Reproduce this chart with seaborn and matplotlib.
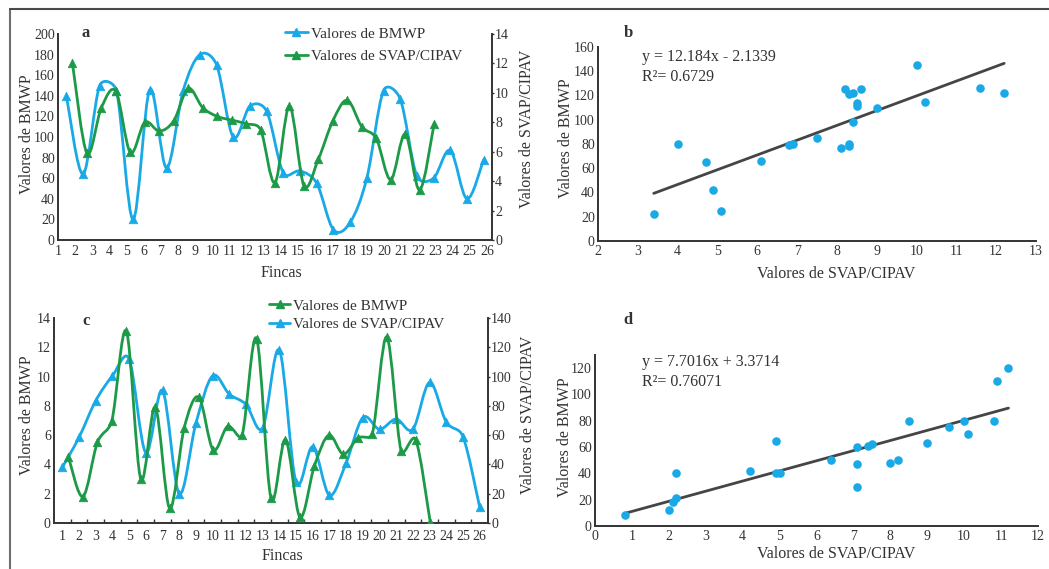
import numpy as np
import matplotlib
matplotlib.use("Agg")
import matplotlib.pyplot as plt
import seaborn as sns
from matplotlib.path import Path
from matplotlib.patches import PathPatch
from matplotlib.lines import Line2D

sns.set_theme(style="white")
plt.rcParams['font.family'] = ['Liberation Serif', 'DejaVu Serif']

# ---------------- data ----------------
fincas = list(range(1, 27))

# panel a (first sampling)
a_bmwp = [140, 64, 150, 145, 20, 146, 70, 145, 180, 170, 100, 130, 125,
          65, 67, 55, 10, 17, 60, 145, 137, 62, 60, 87, 40, 78]
a_svap = [12.0, 5.9, 9.0, 10.1, 5.95, 8.0, 7.4, 8.1, 10.3, 9.0, 8.4, 8.15, 7.9,
          7.5, 3.9, 9.1, 3.7, 5.5, 8.1, 9.5, 7.7, 6.9, 4.1, 7.2, 3.4, 7.9]

# panel c (second sampling)
c_bmwp = [45, 18, 55, 70, 131, 30, 79, 10, 65, 86, 50, 66, 60,
          126, 17, 57, 4, 39, 60, 47, 58, 61, 127, 49, 57, 1]
c_svap = [3.8, 5.85, 8.35, 10.05, 11.2, 4.8, 9.05, 2.0, 6.8, 10.05, 8.8, 8.1, 6.5,
          11.8, 2.8, 5.2, 1.9, 4.1, 7.2, 6.4, 7.1, 6.4, 9.6, 6.9, 5.9, 1.1]

# panel b scatter
b_svap = [3.4, 4.0, 4.7, 4.9, 5.1, 6.1, 6.8, 6.9, 7.5, 8.1, 8.3, 8.3, 8.4, 8.2,
          8.3, 8.4, 8.5, 8.5, 8.6, 9.0, 10.0, 10.2, 11.6, 12.2]
b_bmwp = [22, 80, 65, 42, 25, 66, 79, 80, 85, 77, 80, 78, 98, 125,
          121, 122, 114, 111, 125, 110, 145, 115, 126, 122]
b_slope, b_intercept, b_r2 = 12.184, -2.1339, "0.6729"

# panel d scatter
d_svap = [0.8, 2.0, 2.1, 2.2, 2.2, 4.2, 4.9, 4.9, 5.0, 6.4, 7.1, 7.1, 7.1, 7.4,
          7.5, 8.0, 8.2, 8.5, 9.0, 9.6, 10.0, 10.1, 10.8, 10.9, 11.2]
d_bmwp = [8, 12, 18, 21, 40, 42, 65, 40, 40, 50, 60, 47, 30, 61,
          62, 48, 50, 80, 63, 75, 80, 70, 80, 110, 120]
d_slope, d_intercept, d_r2 = 7.7016, 3.3714, "0.76071"

a_ticks_left = list(range(0, 201, 20))
a_ticks_right = list(range(0, 15, 2))
c_ticks_left = list(range(0, 15, 2))
c_ticks_right = list(range(0, 141, 20))

# ---------------- style ----------------
BLUE = '#19A9E6'
GREEN = '#1D9A47'
DARK = '#333333'
LINEC = '#454545'
W, H = 1049, 569
TICKFS = 10
LABFS = 11.5
YT = dict(direction='out', length=1.5, pad=0.8)

fig = plt.figure(figsize=(W / 100, H / 100), dpi=100)
fig.patch.set_facecolor('white')


def rect(l, t, r, b):
    return [l / W, 1 - b / H, (r - l) / W, (b - t) / H]


def overlay(r):
    ax = fig.add_axes(r)
    ax.patch.set_visible(False)
    for s in ax.spines.values():
        s.set_visible(False)
    ax.set_xticks([])
    ax.set_yticks([])
    ax.grid(False)
    return ax


def style_axis(ax):
    ax.grid(False)
    for s in ax.spines.values():
        s.set_color(DARK)
        s.set_linewidth(1.4)
    ax.tick_params(colors=DARK, labelsize=TICKFS, width=1, length=3, pad=2)


def smooth(ax, x, y, color, lw=2.0):
    """Excel-like smoothed line: cubic Bezier segments through the points,
    tangents from neighbours, control arms capped at half the chord."""
    pts = ax.transData.transform(np.column_stack([x, y]).astype(float))
    n = len(pts)
    verts = [pts[0]]
    codes = [Path.MOVETO]
    for i in range(n - 1):
        p0 = pts[i - 1] if i > 0 else pts[i]
        p1 = pts[i]
        p2 = pts[i + 1]
        p3 = pts[i + 2] if i + 2 < n else pts[i + 1]
        d = np.hypot(*(p2 - p1))
        a1 = (p2 - p0) / 6.0
        a2 = (p3 - p1) / 6.0
        for a in (a1, a2):
            L = np.hypot(*a)
            if L > d / 2 and L > 0:
                a *= (d / 2) / L
        verts += [p1 + a1, p2 - a2, p2]
        codes += [Path.CURVE4] * 3
    verts = ax.transData.inverted().transform(np.array(verts))
    ax.add_patch(PathPatch(Path(verts, codes), fill=False, edgecolor=color,
                           lw=lw, capstyle='round', joinstyle='round', zorder=2))


def tri(ax, x, y, color):
    sns.scatterplot(x=x, y=y, ax=ax, marker='^', s=38, color=color,
                    edgecolor=color, linewidth=0.5, zorder=3, legend=False)


def label_xy(ax, px, py):
    b = ax.get_position()
    return ((px / W - b.x0) / b.width, ((1 - py / H) - b.y0) / b.height)


def right_axis(r, xlim, ylim, ticks):
    ax = fig.add_axes(r)
    ax.patch.set_visible(False)
    ax.grid(False)
    for k, s in ax.spines.items():
        s.set_visible(k == 'right')
        s.set_color(DARK)
        s.set_linewidth(1.4)
    ax.set_xlim(*xlim)
    ax.set_ylim(*ylim)
    ax.set_xticks([])
    ax.yaxis.tick_right()
    ax.yaxis.set_label_position('right')
    ax.set_yticks(ticks)
    ax.tick_params(axis='y', colors=DARK, labelsize=TICKFS, width=1, **YT)
    return ax


# ---------------- panel a ----------------
ra = rect(58, 34, 492, 240)
ax_a = fig.add_axes(ra)
style_axis(ax_a)
ax_a.set_xlim(1, 26.3)
ax_a.set_ylim(0, 200)
ax_a.set_xticks(fincas)
ax_a.set_yticks(a_ticks_left)
ax_a.spines['top'].set_visible(False)
ax_a.spines['right'].set_visible(False)
ax_a.tick_params(axis='x', direction='in', length=3, pad=3.5)
ax_a.tick_params(axis='y', **YT)
ax_a.set_xlabel('Fincas', fontsize=LABFS, color=DARK)
ax_a.xaxis.set_label_coords(*label_xy(ax_a, 281, 265))
ax_a.set_ylabel('Valores de BMWP', fontsize=LABFS, color=DARK)
ax_a.yaxis.set_label_coords(*label_xy(ax_a, 35, 134))

ax_ab = overlay(ra)
ax_ab.set_xlim(0.5, 26.5)
ax_ab.set_ylim(0, 200)
smooth(ax_ab, fincas, a_bmwp, BLUE)
tri(ax_ab, fincas, a_bmwp, BLUE)
ax_ab.set_xlabel('')
ax_ab.set_ylabel('')

ax_ag = right_axis(ra, (0, 30), (0, 14), a_ticks_right)
smooth(ax_ag, fincas, a_svap, GREEN)
tri(ax_ag, fincas, a_svap, GREEN)
ax_ag.set_xlabel('')
ax_ag.set_ylabel('Valores de SVAP/CIPAV', fontsize=LABFS, color=DARK)
ax_ag.yaxis.set_label_coords(*label_xy(ax_ag, 519, 129))

handles_a = [Line2D([], [], color=BLUE, lw=2, marker='^', ms=6),
             Line2D([], [], color=GREEN, lw=2, marker='^', ms=6)]
fig.legend(handles_a, ['Valores de BMWP', 'Valores de SVAP/CIPAV'],
           loc='upper left', bbox_to_anchor=(285 / W, 1 - 27 / H),
           frameon=False, fontsize=11, handlelength=1.5, handletextpad=0.2,
           labelspacing=0.57, borderpad=0, borderaxespad=0, labelcolor=DARK)
fig.text(86 / W, 1 - 33 / H, 'a', fontsize=12, weight='bold', color=DARK,
         ha='center', va='center')

# ---------------- panel b ----------------
ax_b = fig.add_axes(rect(598, 47, 1036, 241))
style_axis(ax_b)
ax_b.spines['top'].set_visible(False)
ax_b.spines['right'].set_visible(False)
sns.scatterplot(x=b_svap, y=b_bmwp, ax=ax_b, s=38, color=BLUE,
                edgecolor=BLUE, linewidth=0, zorder=3, legend=False)
bx = np.array([min(b_svap), max(b_svap)])
sns.lineplot(x=bx, y=b_slope * bx + b_intercept, ax=ax_b, color=LINEC, lw=2,
             zorder=2, legend=False)
ax_b.set_xlim(2, 13)
ax_b.set_ylim(0, 160)
ax_b.set_xticks(range(2, 14))
ax_b.set_yticks(range(0, 161, 20))
ax_b.tick_params(axis='x', direction='in', length=3, pad=3)
ax_b.tick_params(axis='y', **YT)
ax_b.set_xlabel('Valores de SVAP/CIPAV', fontsize=LABFS, color=DARK)
ax_b.xaxis.set_label_coords(*label_xy(ax_b, 836, 266))
ax_b.set_ylabel('Valores de BMWP', fontsize=LABFS, color=DARK)
ax_b.yaxis.set_label_coords(*label_xy(ax_b, 574, 138))
fig.text(642 / W, 1 - 57 / H, f'y = {b_slope}x - {abs(b_intercept)}',
         fontsize=11.5, color=DARK, ha='left', va='center')
fig.text(642 / W, 1 - 77 / H, f'R\u00b2= {b_r2}',
         fontsize=11.5, color=DARK, ha='left', va='center')
fig.text(628 / W, 1 - 33 / H, 'b', fontsize=12, weight='bold', color=DARK,
         ha='center', va='center')

# ---------------- panel c ----------------
rc = rect(54, 318, 488, 523)
ax_c = fig.add_axes(rc)
style_axis(ax_c)
ax_c.spines['top'].set_visible(False)
ax_c.spines['right'].set_visible(False)
ax_c.set_xlim(0.5, 26.5)
ax_c.set_ylim(0, 14)
ax_c.set_xticks(fincas)
ax_c.set_xticks(np.arange(1.5, 26, 1.0), minor=True)
ax_c.tick_params(axis='x', which='major', length=0, pad=5)
ax_c.tick_params(axis='x', which='minor', direction='in', length=3,
                 width=1, color=DARK, bottom=True)
ax_c.set_yticks(c_ticks_left)
ax_c.tick_params(axis='y', **YT)
smooth(ax_c, fincas, c_svap, BLUE)
tri(ax_c, fincas, c_svap, BLUE)
ax_c.set_xlabel('Fincas', fontsize=LABFS, color=DARK)
ax_c.xaxis.set_label_coords(*label_xy(ax_c, 282, 548))
ax_c.set_ylabel('Valores de BMWP', fontsize=LABFS, color=DARK)
ax_c.yaxis.set_label_coords(*label_xy(ax_c, 35, 415))

ax_cg = right_axis(rc, (0, 30), (0, 140), c_ticks_right)
smooth(ax_cg, fincas, c_bmwp, GREEN)
tri(ax_cg, fincas, c_bmwp, GREEN)
ax_cg.set_xlabel('')
ax_cg.set_ylabel('Valores de SVAP/CIPAV', fontsize=LABFS, color=DARK)
ax_cg.yaxis.set_label_coords(*label_xy(ax_cg, 520, 415))

handles_c = [Line2D([], [], color=GREEN, lw=2, marker='^', ms=6),
             Line2D([], [], color=BLUE, lw=2, marker='^', ms=6)]
fig.legend(handles_c, ['Valores de BMWP', 'Valores de SVAP/CIPAV'],
           loc='upper left', bbox_to_anchor=(269 / W, 1 - 299 / H),
           frameon=False, fontsize=11, handlelength=1.4, handletextpad=0.2,
           labelspacing=0.33, borderpad=0, borderaxespad=0, labelcolor=DARK)
fig.text(86 / W, 1 - 321 / H, 'c', fontsize=12, weight='bold', color=DARK,
         ha='center', va='center')

# ---------------- panel d ----------------
ax_d = fig.add_axes(rect(595, 355, 1038, 526))
style_axis(ax_d)
ax_d.spines['top'].set_visible(False)
ax_d.spines['right'].set_visible(False)
sns.scatterplot(x=d_svap, y=d_bmwp, ax=ax_d, s=38, color=BLUE,
                edgecolor=BLUE, linewidth=0, zorder=3, legend=False)
dx = np.array([min(d_svap), max(d_svap)])
sns.lineplot(x=dx, y=d_slope * dx + d_intercept, ax=ax_d, color=LINEC, lw=2,
             zorder=2, legend=False)
ax_d.set_xlim(0, 12)
ax_d.set_ylim(0, 130)
ax_d.set_xticks(range(0, 13))
ax_d.set_yticks(range(0, 121, 20))
ax_d.tick_params(axis='x', direction='in', length=3, pad=3)
ax_d.tick_params(axis='y', **YT)
ax_d.set_xlabel('Valores de SVAP/CIPAV', fontsize=LABFS, color=DARK)
ax_d.xaxis.set_label_coords(*label_xy(ax_d, 836, 546))
ax_d.set_ylabel('Valores de BMWP', fontsize=LABFS, color=DARK)
ax_d.yaxis.set_label_coords(*label_xy(ax_d, 573, 437))
fig.text(642 / W, 1 - 362 / H, f'y = {d_slope}x + {d_intercept}',
         fontsize=11.5, color=DARK, ha='left', va='center')
fig.text(642 / W, 1 - 382 / H, f'R\u00b2= {d_r2}',
         fontsize=11.5, color=DARK, ha='left', va='center')
fig.text(628 / W, 1 - 320 / H, 'd', fontsize=12, weight='bold', color=DARK,
         ha='center', va='center')

# ---------------- frame ----------------
fig.add_artist(Line2D([10 / W, 10 / W], [0, 1 - 9 / H], color='#6f6f6f', lw=1.5))
fig.add_artist(Line2D([10 / W, 1], [1 - 9 / H, 1 - 9 / H], color='#4a4a4a', lw=1.5))

fig.savefig('out.png', dpi=100, facecolor='white')
